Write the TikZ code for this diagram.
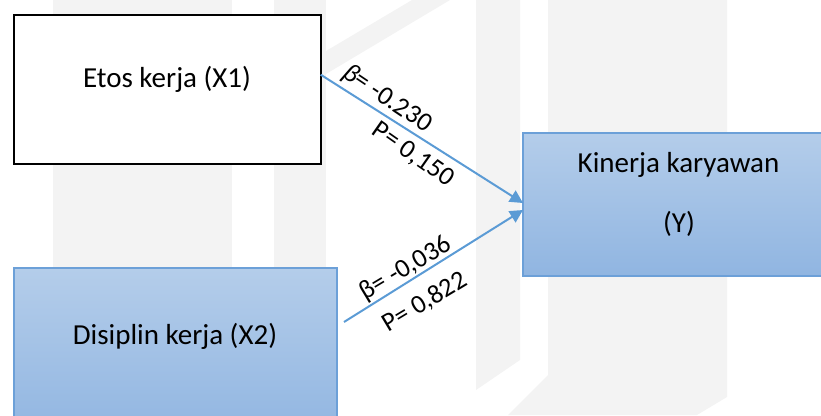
\documentclass[tikz,border=0pt]{standalone}
\usepackage{fontspec}
\setmainfont{Carlito}
\usetikzlibrary{arrows.meta}
\definecolor{wm}{RGB}{243,243,243}
\definecolor{arrowblue}{RGB}{91,155,213}
\definecolor{boxedge}{RGB}{108,160,216}
\definecolor{gradtop}{RGB}{180,205,234}
\definecolor{gradbot}{RGB}{144,181,225}
\tikzset{
  plainbox/.style={draw=black, line width=2pt, fill=white, rectangle, inner sep=0pt, outer sep=0pt},
  bluebox/.style={draw=boxedge, line width=1.2pt, rectangle, inner sep=0pt, outer sep=0pt,
    top color=gradtop, bottom color=gradbot},
  boxtext/.style={anchor=base, inner sep=0pt, font=\fontsize{29pt}{34pt}\selectfont},
  coef/.style={inner sep=0pt, font=\fontsize{26.5pt}{31pt}\selectfont},
  arr/.style={draw=arrowblue, line width=2pt, -{Triangle[length=13pt,width=13pt]}}
}
\begin{document}
\begin{tikzpicture}[x=1pt,y=-1pt]
\useasboundingbox (0,0) rectangle (821,415);
\clip (0,0) rectangle (821,415);
% faint watermark
\fill[wm] (53,0) rectangle (232,415);
\fill[wm] (274,0) rectangle (326,415);
\fill[wm] (326,51) -- (412,0) -- (450,0) -- (326,74) -- cycle;
\fill[wm] (476,0) -- (520,0) -- (520,360) -- (476,390) -- cycle;
\fill[wm] (548,0) -- (727,0) -- (727,397) -- (697,415) -- (508,415) -- (548,375) -- cycle;
% boxes
\node[plainbox, minimum width=306.7pt, minimum height=149.3pt] (x1) at (167.35,89.35) {};
\node[bluebox, minimum width=323pt, minimum height=172pt] (x2) at (175.5,354) {};
\node[bluebox, minimum width=317pt, minimum height=143pt] (y) at (681.5,204.5) {};
% texts
\node[boxtext] (tx1) at (167,87) {Etos kerja (X1)};
\node[boxtext] (tx2) at (175,344) {Disiplin kerja (X2)};
\node[boxtext] (ty1) at (678.5,172) {Kinerja karyawan};
\node[boxtext] (ty2) at (679,232) {(Y)};
% connectors
\draw[arr] ([yshift=-60pt]x1.north east) -- ([yshift=1.5pt]y.west);
\draw[arr] ([xshift=7pt,yshift=-54pt]x2.north east) -- ([yshift=-5.5pt]y.west);
% coefficient labels
\node[coef, rotate=-34] (b1) at (387,99) {\textit{β}= -0.230};
\node[coef, rotate=-35] (p1) at (413,155) {P= 0,150};
\node[coef, rotate=31] (b2) at (406,269) {β= -0,036};
\node[coef, rotate=31] (p2) at (425,302) {P= 0,822};
\end{tikzpicture}
\end{document}
